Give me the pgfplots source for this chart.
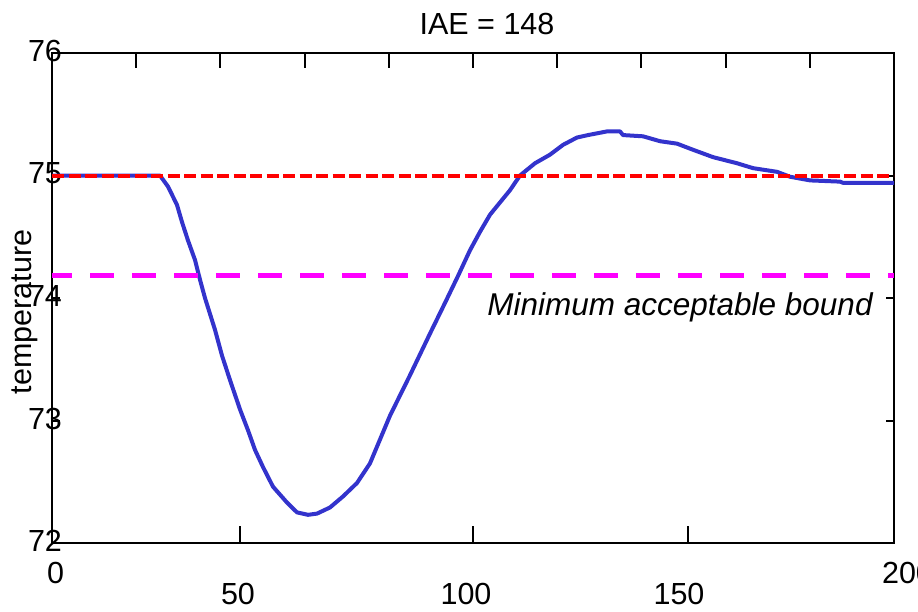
\documentclass[border=0pt]{standalone}
\usepackage{fontspec}
\setmainfont{Liberation Sans}
\usepackage{pgfplots}
\pgfplotsset{compat=1.18}
\definecolor{curveblue}{rgb}{0.2,0.2,0.8}
\definecolor{boundmag}{rgb}{1,0,1}

% temperature response to the disturbance
\pgfplotstableread{
t     T
0     75.00
25.65 75.00
27.55 74.91
29.69 74.76
30.88 74.62
32.30 74.47
33.97 74.31
35.15 74.15
36.34 74.00
38.72 73.74
40.38 73.53
42.28 73.33
44.66 73.09
46.56 72.92
48.22 72.76
50.12 72.62
52.49 72.46
55.82 72.33
58.19 72.25
60.81 72.23
62.95 72.24
66.03 72.29
69.12 72.38
72.45 72.49
75.53 72.65
80.29 73.04
85.04 73.37
89.79 73.71
93.35 73.96
96.44 74.18
99.29 74.39
101.66 74.54
104.04 74.68
106.41 74.78
108.79 74.88
111.16 75.00
114.73 75.10
118.29 75.17
121.38 75.25
124.70 75.31
127.32 75.33
131.83 75.36
134.92 75.36
135.63 75.33
140.38 75.32
144.42 75.28
148.46 75.26
152.26 75.21
157.01 75.15
162.71 75.10
166.51 75.06
172.21 75.03
175.30 74.99
180.05 74.96
187.17 74.95
187.89 74.94
200.00 74.94
}\response

\begin{document}
\fontsize{30.5}{36}\selectfont
\begin{tikzpicture}[x=1pt,y=1pt]
\useasboundingbox (0,0) rectangle (918,611);
\pgfplotsset{
  frame/.style={
    at={(52pt,68pt)}, anchor=south west,
    scale only axis, width=842pt, height=490pt,
    xmin=0, xmax=200, ymin=72, ymax=76,
    tick align=inside,
    tick style={line width=2pt, black},
  },
}
% main box, curve and reference lines
\begin{axis}[
  frame,
  axis line style={line width=2.5pt},
  xtick=\empty,
  ytick={72,73,74,75,76},
  yticklabels={72,73,74,75,76},
  ytick pos=both,
  major tick length=8pt,
  yticklabel style={anchor=center, xshift=-7pt, yshift=2pt,
                    font=\fontsize{30.5}{36}\selectfont},
]
\addplot[curveblue, line width=4pt, line join=round] table[x=t, y=T] {\response};
\addplot[red, line width=4pt, dash pattern=on 12pt off 4.5pt] coordinates {(0,75) (200,75)};
\addplot[boundmag, line width=5pt, dash pattern=on 24pt off 18pt, dash phase=4pt] coordinates {(0,74.18) (200,74.18)};
\end{axis}
% bottom ticks
\begin{axis}[
  frame,
  axis line style={draw=none},
  ytick=\empty,
  xtick={44.65,100,151.1},
  xticklabels={},
  xtick pos=left,
  major tick length=17pt,
]
\end{axis}
% top ticks
\begin{axis}[
  frame,
  axis line style={draw=none},
  ytick=\empty,
  xtick={20,40,60,80,100,120,140,160,180},
  xticklabels={},
  xtick pos=right,
  major tick length=15pt,
]
\end{axis}
\node at (55.5,38) {0};
\node at (238,17) {50};
\node at (466,17) {100};
\node at (679,17) {150};
\node at (907.5,38) {200};
\node at (487,587) {IAE = 148};
\node[rotate=90] at (25,299) {temperature};
\node[font=\fontsize{31.5}{38}\selectfont\itshape] at (680,304) {Minimum acceptable bound};
\end{tikzpicture}
\end{document}
